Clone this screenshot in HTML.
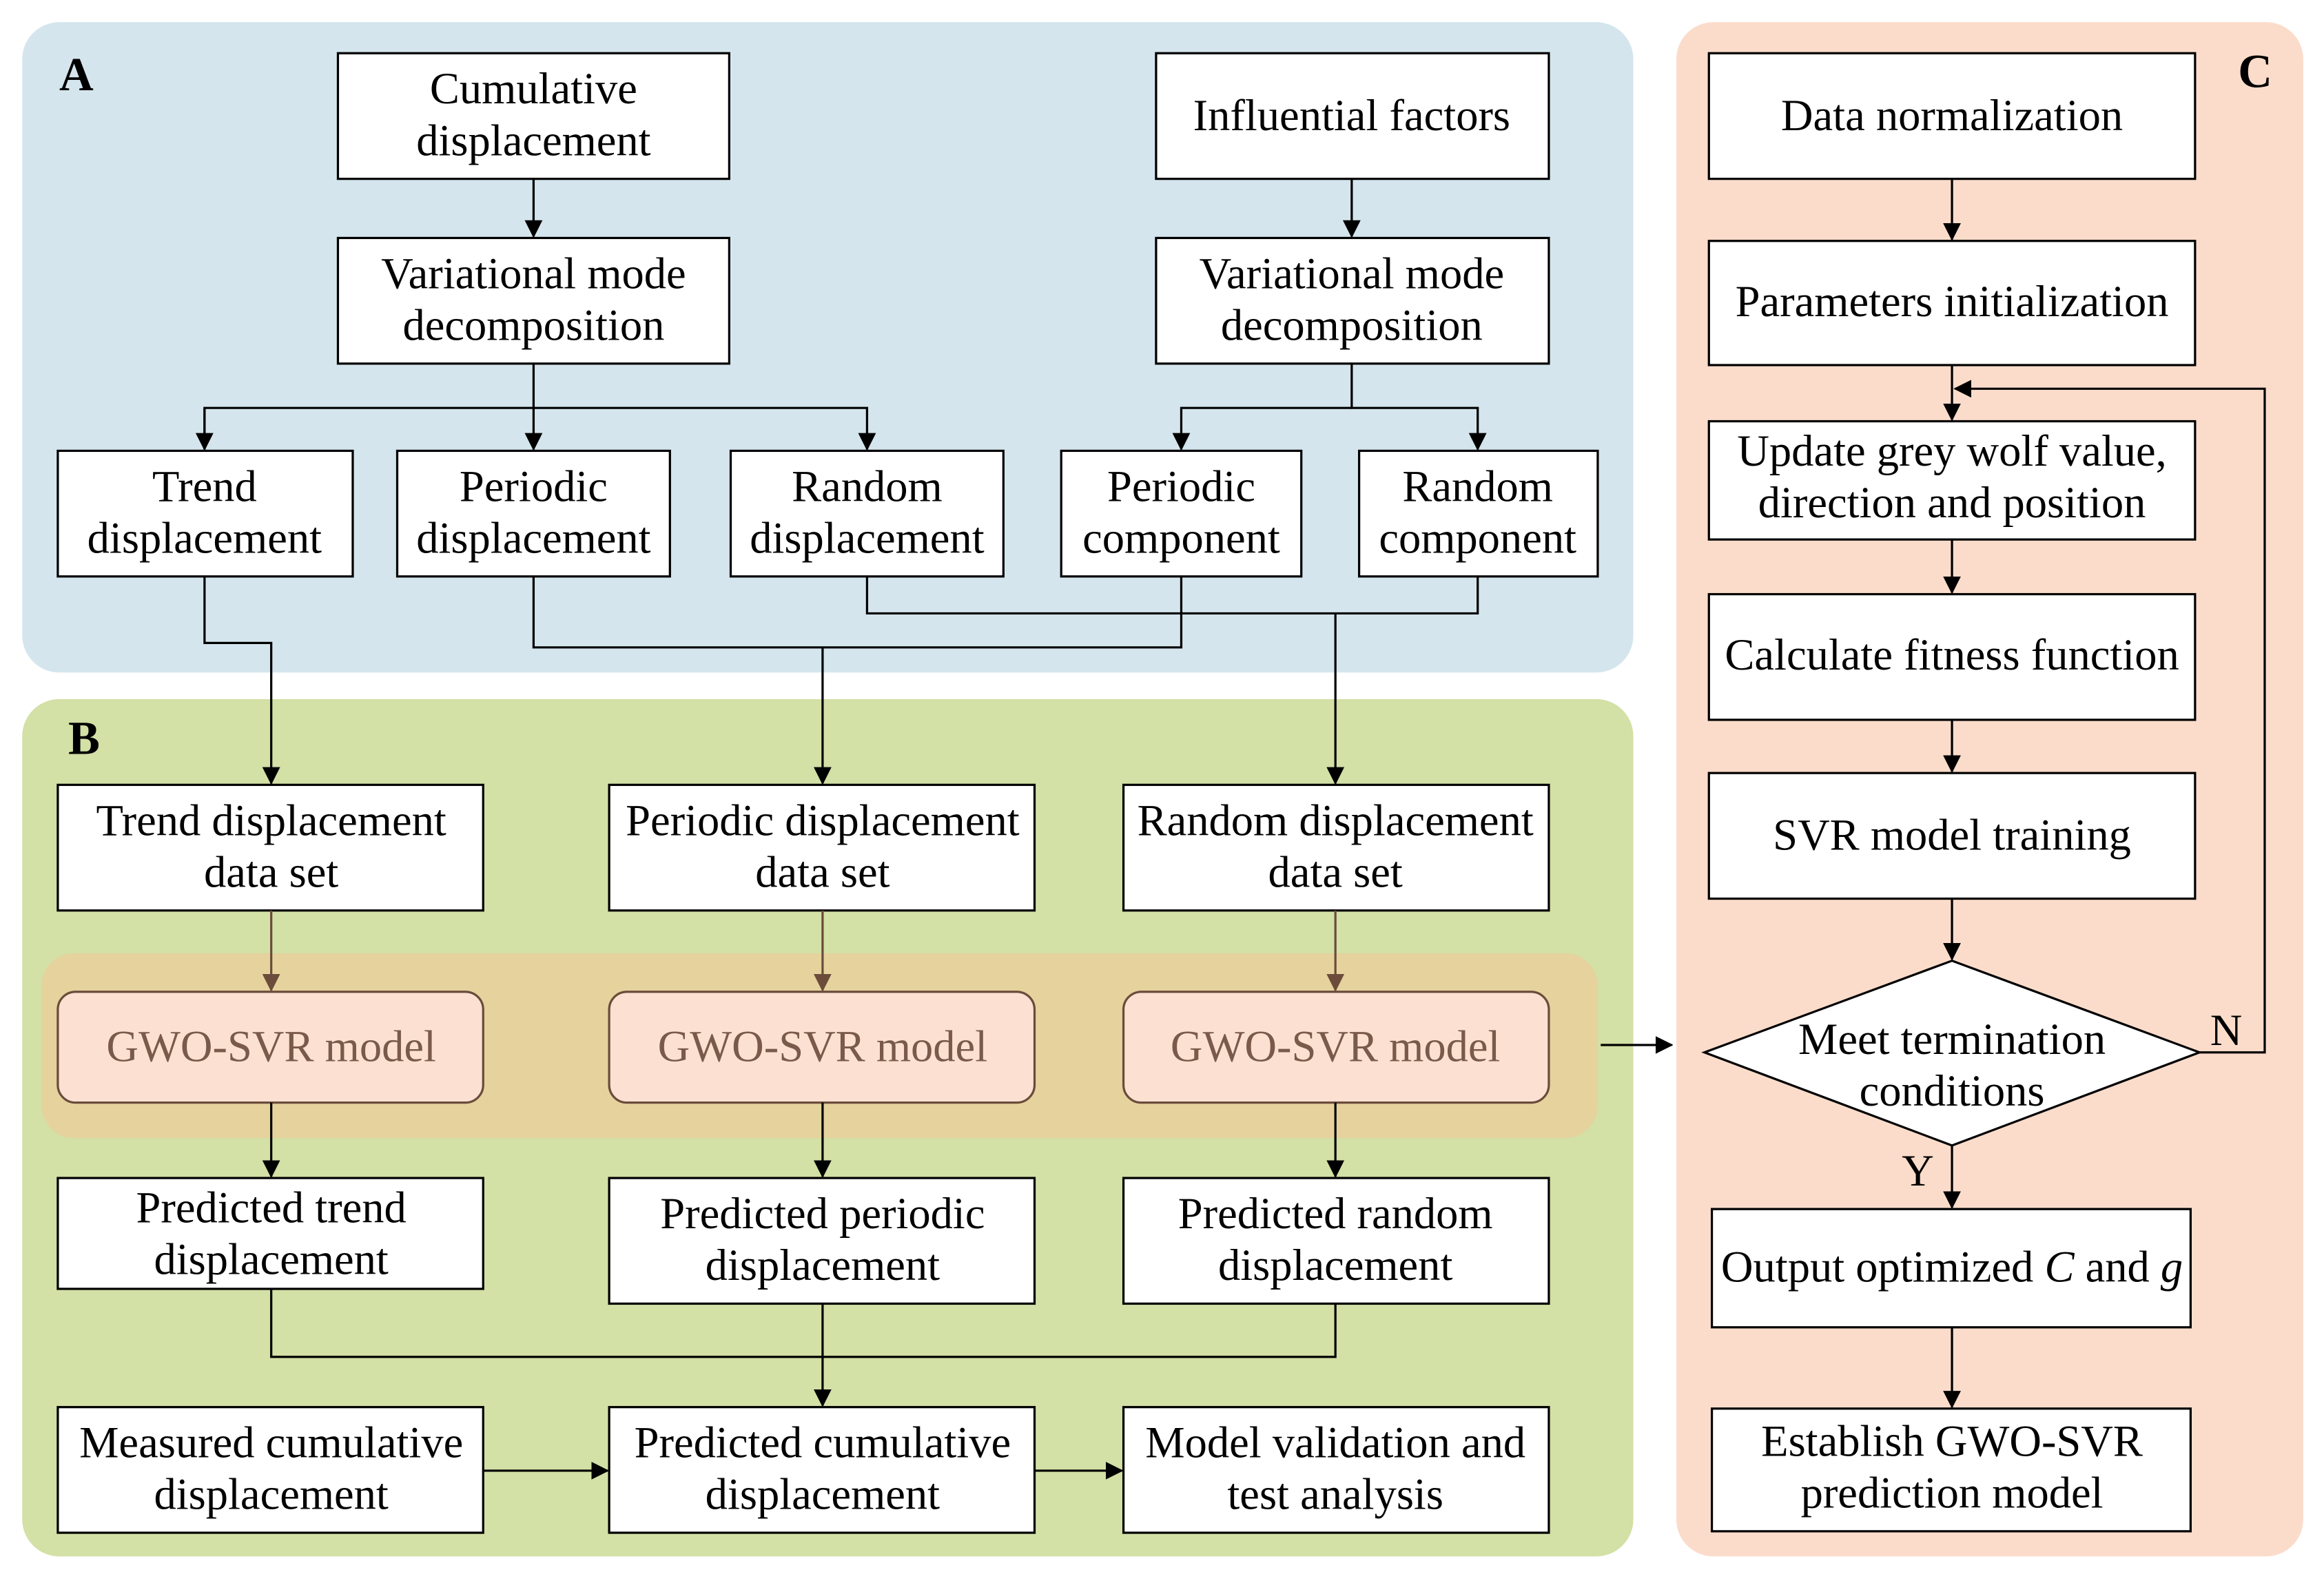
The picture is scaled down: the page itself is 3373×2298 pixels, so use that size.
<!DOCTYPE html>
<html><head><meta charset="utf-8"><style>html,body{margin:0;padding:0;background:#fff}svg{display:block}</style></head>
<body>
<svg width="3373" height="2298" viewBox="0 0 1568 1071" preserveAspectRatio="none" xmlns="http://www.w3.org/2000/svg" font-family="'Liberation Serif', serif" font-size="30">
<defs>
<marker id="a" markerWidth="12" markerHeight="12" refX="11" refY="6" orient="auto" markerUnits="userSpaceOnUse"><path d="M0,0 L12,6 L0,12 Z" fill="#000"/></marker>
<marker id="b" markerWidth="12" markerHeight="12" refX="11" refY="6" orient="auto" markerUnits="userSpaceOnUse"><path d="M0,0 L12,6 L0,12 Z" fill="#6b4c3b"/></marker>
</defs>
<rect x="15" y="15" width="1087" height="440" rx="25" fill="#d5e5ed"/>
<rect x="15" y="473" width="1087" height="580" rx="25" fill="#d3e0a6"/>
<rect x="1131" y="15" width="423" height="1038" rx="25" fill="#fbdccb"/>
<rect x="28" y="645" width="1050" height="125" rx="22" fill="#e5d29d"/>
<g font-weight="bold" font-size="32"><text x="40" y="61">A</text><text x="46" y="510">B</text><text x="1510" y="59">C</text></g>
<g fill="#fff" stroke="#000" stroke-width="1.5">
<rect x="228" y="36" width="264" height="85"/><rect x="780" y="36" width="265" height="85"/>
<rect x="228" y="161" width="264" height="85"/><rect x="780" y="161" width="265" height="85"/>
<rect x="39" y="305" width="199" height="85"/><rect x="268" y="305" width="184" height="85"/><rect x="493" y="305" width="184" height="85"/><rect x="716" y="305" width="162" height="85"/><rect x="917" y="305" width="161" height="85"/>
<rect x="39" y="531" width="287" height="85"/><rect x="411" y="531" width="287" height="85"/><rect x="758" y="531" width="287" height="85"/>
<rect x="39" y="797" width="287" height="75"/><rect x="411" y="797" width="287" height="85"/><rect x="758" y="797" width="287" height="85"/>
<rect x="39" y="952" width="287" height="85"/><rect x="411" y="952" width="287" height="85"/><rect x="758" y="952" width="287" height="85"/>
<rect x="1153" y="36" width="328" height="85"/><rect x="1153" y="163" width="328" height="84"/><rect x="1153" y="285" width="328" height="80"/><rect x="1153" y="402" width="328" height="85"/><rect x="1153" y="523" width="328" height="85"/>
<path d="M1317,650 L1484,712 L1317,775 L1150,712 Z"/>
<rect x="1155" y="818" width="323" height="80"/><rect x="1155" y="953" width="323" height="83"/>
</g>
<g fill="#fce1d2" stroke="#6b4c3b" stroke-width="1.5">
<rect x="39" y="671" width="287" height="75" rx="12"/><rect x="411" y="671" width="287" height="75" rx="12"/><rect x="758" y="671" width="287" height="75" rx="12"/>
</g>
<g fill="none" stroke="#000" stroke-width="1.5">
<path d="M360,121 V160" marker-end="url(#a)"/><path d="M912,121 V160" marker-end="url(#a)"/>
<path d="M360,246 V304" marker-end="url(#a)"/><path d="M138,304 V276 H585 V304" marker-end="url(#a)"/><path d="M138,276 V304" marker-end="url(#a)"/>
<path d="M912,246 V276 H997 V304" marker-end="url(#a)"/><path d="M912,276 H797 V304" marker-end="url(#a)"/>
<path d="M138,390 V435 H183 V530" marker-end="url(#a)"/>
<path d="M360,390 V438 H797 V390"/><path d="M555,438 V530" marker-end="url(#a)"/>
<path d="M585,390 V415 H997 V390"/><path d="M901,415 V530" marker-end="url(#a)"/>
<path d="M183,746 V796" marker-end="url(#a)"/><path d="M555,746 V796" marker-end="url(#a)"/><path d="M901,746 V796" marker-end="url(#a)"/>
<path d="M183,872 V918 H901 V882"/><path d="M555,882 V951" marker-end="url(#a)"/>
<path d="M326,995 H410" marker-end="url(#a)"/><path d="M698,995 H757" marker-end="url(#a)"/>
<path d="M1080,707 H1128" marker-end="url(#a)"/>
<path d="M1317,121 V162" marker-end="url(#a)"/><path d="M1317,247 V284" marker-end="url(#a)"/><path d="M1317,365 V401" marker-end="url(#a)"/><path d="M1317,487 V522" marker-end="url(#a)"/><path d="M1317,608 V649" marker-end="url(#a)"/><path d="M1317,775 V817" marker-end="url(#a)"/><path d="M1317,898 V952" marker-end="url(#a)"/>
<path d="M1484,712 H1528 V263 H1319" marker-end="url(#a)"/>
</g>
<g fill="none" stroke="#6b4c3b" stroke-width="1.5">
<path d="M183,616 V670" marker-end="url(#b)"/><path d="M555,616 V670" marker-end="url(#b)"/><path d="M901,616 V670" marker-end="url(#b)"/>
</g>
<g text-anchor="middle" fill="#000">
<text x="360" y="70">Cumulative</text><text x="360" y="105">displacement</text>
<text x="912" y="88">Influential factors</text>
<text x="360" y="195">Variational mode</text><text x="360" y="230">decomposition</text>
<text x="912" y="195">Variational mode</text><text x="912" y="230">decomposition</text>
<text x="138" y="339">Trend</text><text x="138" y="374">displacement</text>
<text x="360" y="339">Periodic</text><text x="360" y="374">displacement</text>
<text x="585" y="339">Random</text><text x="585" y="374">displacement</text>
<text x="797" y="339">Periodic</text><text x="797" y="374">component</text>
<text x="997" y="339">Random</text><text x="997" y="374">component</text>
<text x="183" y="565">Trend displacement</text><text x="183" y="600">data set</text>
<text x="555" y="565">Periodic displacement</text><text x="555" y="600">data set</text>
<text x="901" y="565">Random displacement</text><text x="901" y="600">data set</text>
<g fill="#7a5a4a"><text x="183" y="718">GWO-SVR model</text><text x="555" y="718">GWO-SVR model</text><text x="901" y="718">GWO-SVR model</text></g>
<text x="183" y="827">Predicted trend</text><text x="183" y="862">displacement</text>
<text x="555" y="831">Predicted periodic</text><text x="555" y="866">displacement</text>
<text x="901" y="831">Predicted random</text><text x="901" y="866">displacement</text>
<text x="183" y="986">Measured cumulative</text><text x="183" y="1021">displacement</text>
<text x="555" y="986">Predicted cumulative</text><text x="555" y="1021">displacement</text>
<text x="901" y="986">Model validation and</text><text x="901" y="1021">test analysis</text>
<text x="1317" y="88">Data normalization</text>
<text x="1317" y="214">Parameters initialization</text>
<text x="1317" y="315">Update grey wolf value,</text><text x="1317" y="350">direction and position</text>
<text x="1317" y="453">Calculate fitness function</text>
<text x="1317" y="575">SVR model training</text>
<text x="1317" y="713">Meet termination</text><text x="1317" y="748">conditions</text>
<text x="1317" y="867">Output optimized <tspan font-style="italic">C</tspan> and <tspan font-style="italic">g</tspan></text>
<text x="1317" y="985">Establish GWO-SVR</text><text x="1317" y="1020">prediction model</text>
<text x="1502" y="707">N</text><text x="1294" y="802">Y</text>
</g>
</svg>
</body></html>
